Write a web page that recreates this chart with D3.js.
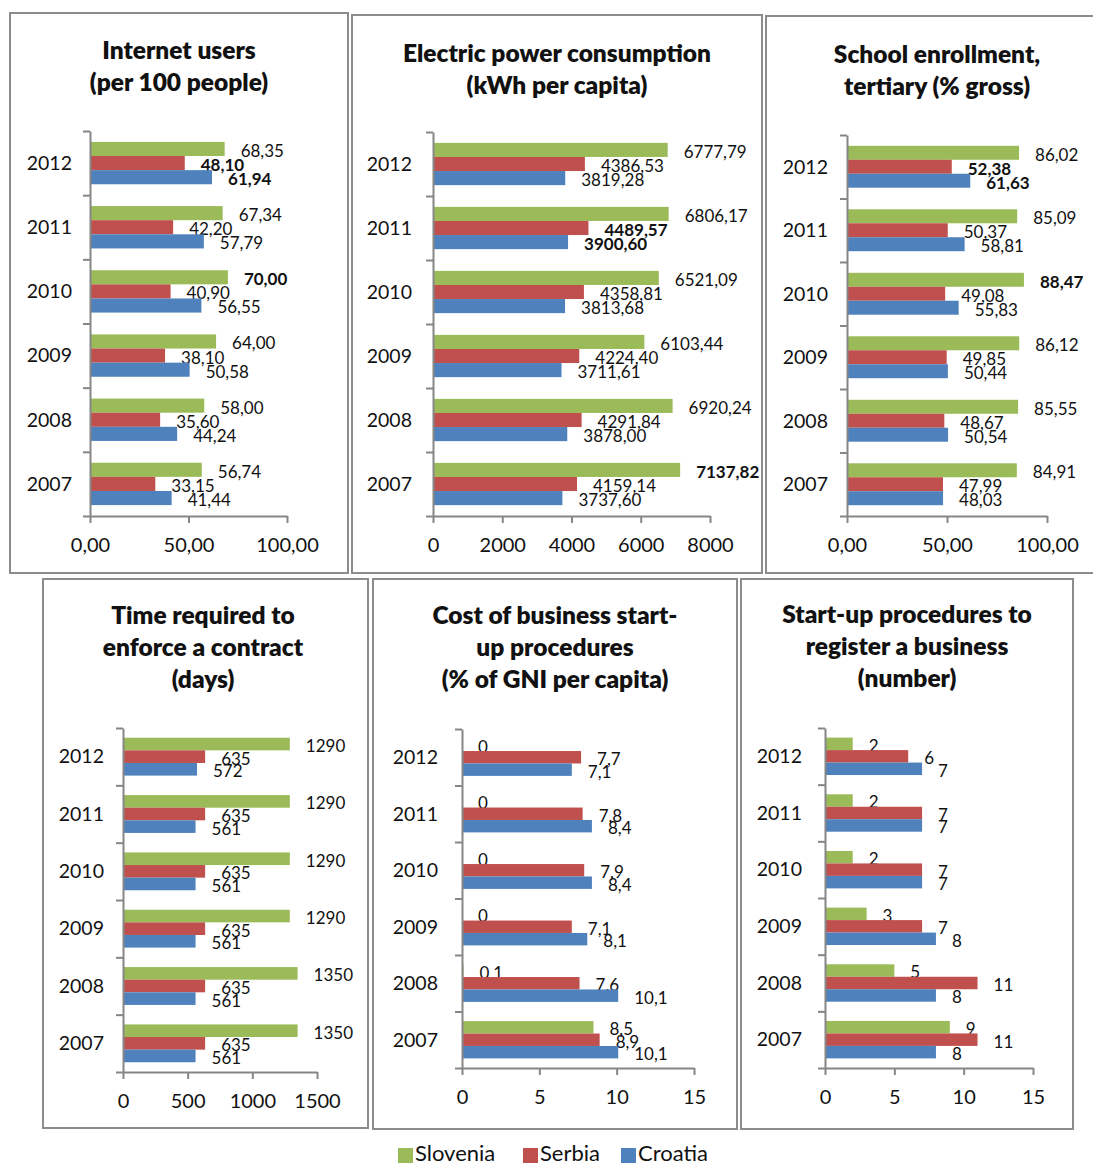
<!DOCTYPE html>
<html>
<head>
<meta charset="utf-8">
<script src="https://cdn.jsdelivr.net/npm/d3@7"></script>
<style>
	body { margin: 0; background: #fff; }
	svg text { font-family: Lato, "Open Sans", sans-serif; fill: #111; }
</style>
</head>
<body>
<svg id="chart" width="1093" height="1165"></svg>
<script>

	const years = ['2012', '2011', '2010', '2009', '2008', '2007']
	const countries = ['Slovenia', 'Serbia', 'Croatia']

	// values per country, in the order of countries, years top to bottom
	const internetUsers = [
		[68.35, 67.34, 70.00, 64.00, 58.00, 56.74],
		[48.10, 42.20, 40.90, 38.10, 35.60, 33.15],
		[61.94, 57.79, 56.55, 50.58, 44.24, 41.44],
	]
	const powerConsumption = [
		[6777.79, 6806.17, 6521.09, 6103.44, 6920.24, 7137.82],
		[4386.53, 4489.57, 4358.81, 4224.40, 4291.84, 4159.14],
		[3819.28, 3900.60, 3813.68, 3711.61, 3878.00, 3737.60],
	]
	const schoolEnrollment = [
		[86.02, 85.09, 88.47, 86.12, 85.55, 84.91],
		[52.38, 50.37, 49.08, 49.85, 48.67, 47.99],
		[61.63, 58.81, 55.83, 50.44, 50.54, 48.03],
	]
	const contractDays = [
		[1290, 1290, 1290, 1290, 1350, 1350],
		[635, 635, 635, 635, 635, 635],
		[572, 561, 561, 561, 561, 561],
	]
	const startupCost = [
		[0, 0, 0, 0, 0.1, 8.5],
		[7.7, 7.8, 7.9, 7.1, 7.6, 8.9],
		[7.1, 8.4, 8.4, 8.1, 10.1, 10.1],
	]
	const startupProcedures = [
		[2, 2, 2, 3, 5, 9],
		[6, 7, 7, 7, 11, 11],
		[7, 7, 7, 8, 8, 8],
	]

	const ticksPercent = [0, 50, 100]
	const ticksPower = [0, 2000, 4000, 6000, 8000]
	const ticksDays = [0, 500, 1000, 1500]
	const ticksSmall = [0, 5, 10, 15]

	const titles = [
		['Internet users', '(per 100 people)'],
		['Electric power consumption', '(kWh per capita)'],
		['School enrollment,', 'tertiary (% gross)'],
		['Time required to', 'enforce a contract', '(days)'],
		['Cost of business start-', 'up procedures', '(% of GNI per capita)'],
		['Start-up procedures to', 'register a business', '(number)'],
	]

	const colors = ['#9bbb59', '#c0504d', '#4f81bd']

	const loc = d3.formatLocale({ decimal: ',', thousands: '', grouping: [3], currency: ['', ''] })
	const f2 = loc.format('.2f')
	const f1 = v => v === 0 ? '0' : loc.format('.1f')(v)
	const f0 = loc.format('d')

	const panels = [
		{ data: internetUsers, ticks: ticksPercent, fmt: f2, tickFmt: f2, bold: true,
			box: [10, 13, 338, 560], x0: 90, x1: 287, top: 131, bottom: 516, yl: 72, tx: 179, ty: 59 },
		{ data: powerConsumption, ticks: ticksPower, fmt: f2, tickFmt: f0, bold: true,
			box: [352, 15, 410, 558], x0: 433, x1: 710, top: 132, bottom: 516, yl: 412, tx: 557, ty: 62 },
		{ data: schoolEnrollment, ticks: ticksPercent, fmt: f2, tickFmt: f2, bold: true,
			box: [766, 16, 340, 557], x0: 847, x1: 1047, top: 135, bottom: 516, yl: 828, tx: 937, ty: 63 },
		{ data: contractDays, ticks: ticksDays, fmt: f0, tickFmt: f0, bold: false,
			box: [43, 579, 325, 549], x0: 123, x1: 317, top: 728, bottom: 1072, yl: 104, tx: 203, ty: 624 },
		{ data: startupCost, ticks: ticksSmall, fmt: f1, tickFmt: f0, bold: false,
			box: [373, 579, 364, 550], x0: 462, x1: 694, top: 729, bottom: 1068, yl: 438, tx: 555, ty: 624 },
		{ data: startupProcedures, ticks: ticksSmall, fmt: f0, tickFmt: f0, bold: false,
			box: [741, 579, 332, 550], x0: 825, x1: 1033, top: 728, bottom: 1068, yl: 802, tx: 907, ty: 623 },
	]

	const svg = d3.select('#chart')

	panels.forEach((p, pi) => {
		const g = svg.append('g')

		g.append('rect')
			.attr('x', p.box[0]).attr('y', p.box[1])
			.attr('width', p.box[2]).attr('height', p.box[3])
			.attr('fill', '#fff').attr('stroke', '#8c8c8c').attr('stroke-width', 2)

		titles[pi].forEach((line, i) => {
			g.append('text')
				.attr('x', p.tx).attr('y', p.ty + i * 32)
				.attr('text-anchor', 'middle')
				.attr('font-size', 24.5).attr('font-weight', 800)
				.text(line)
		})

		const x = d3.scaleLinear().domain([0, p.ticks[p.ticks.length - 1]]).range([p.x0, p.x1])
		const y = d3.scaleBand().domain(years).range([p.top, p.bottom]).paddingInner(0.34).paddingOuter(0.17)
		const ys = d3.scaleBand().domain(countries).range([0, y.bandwidth()])
		const edges = d3.scaleLinear().domain([0, years.length]).range([p.top, p.bottom])

		// bars, green on top
		countries.forEach((c, ci) => {
			const vals = p.data[ci]
			const maxv = d3.max(vals)
			g.selectAll('.bar' + ci)
				.data(vals)
				.enter().append('rect')
				.attr('x', p.x0)
				.attr('y', (d, i) => y(years[i]) + ys(c))
				.attr('width', d => x(d) - p.x0)
				.attr('height', ys.bandwidth())
				.attr('fill', colors[ci])

			g.selectAll('.lbl' + ci)
				.data(vals)
				.enter().append('text')
				.attr('x', d => x(d) + 16)
				.attr('y', (d, i) => y(years[i]) + ys(c) + ys.bandwidth() / 2 + 2)
				.attr('dy', '.35em')
				.attr('font-size', 17)
				.attr('font-weight', d => p.bold && d === maxv ? 'bold' : 'normal')
				.text(d => p.fmt(d))
		})

		const yAxis = g.append('g')
			.attr('transform', 'translate(' + p.x0 + ',0)')
			.call(d3.axisLeft(edges).tickValues(d3.range(years.length + 1)).tickSize(7).tickSizeOuter(0).tickFormat(''))

		const xAxis = g.append('g')
			.attr('transform', 'translate(0,' + p.bottom + ')')
			.call(d3.axisBottom(x).tickValues(p.ticks).tickSize(7).tickSizeOuter(0).tickPadding(15).tickFormat(p.tickFmt))

		;[yAxis, xAxis].forEach(a => {
			a.selectAll('path, line').attr('stroke', '#868686').attr('stroke-width', 2)
			a.selectAll('text').attr('font-size', 20).attr('font-family', 'Lato').attr('fill', '#111')
		})

		g.selectAll('.year')
			.data(years)
			.enter().append('text')
			.attr('x', p.yl)
			.attr('y', d => y(d) + y.bandwidth() / 2)
			.attr('dy', '.35em')
			.attr('text-anchor', 'end')
			.attr('font-size', 19.5)
			.text(d => d)
	})

	// legend
	const legendX = [398, 523, 621]
	const legend = svg.append('g')
	countries.forEach((c, i) => {
		legend.append('rect')
			.attr('x', legendX[i]).attr('y', 1148)
			.attr('width', 15).attr('height', 15)
			.attr('fill', colors[i])
		legend.append('text')
			.attr('x', legendX[i] + 17).attr('y', 1161)
			.attr('font-size', 22)
			.attr('fill', '#1f2a44')
			.text(c)
	})

</script>
</body>
</html>
